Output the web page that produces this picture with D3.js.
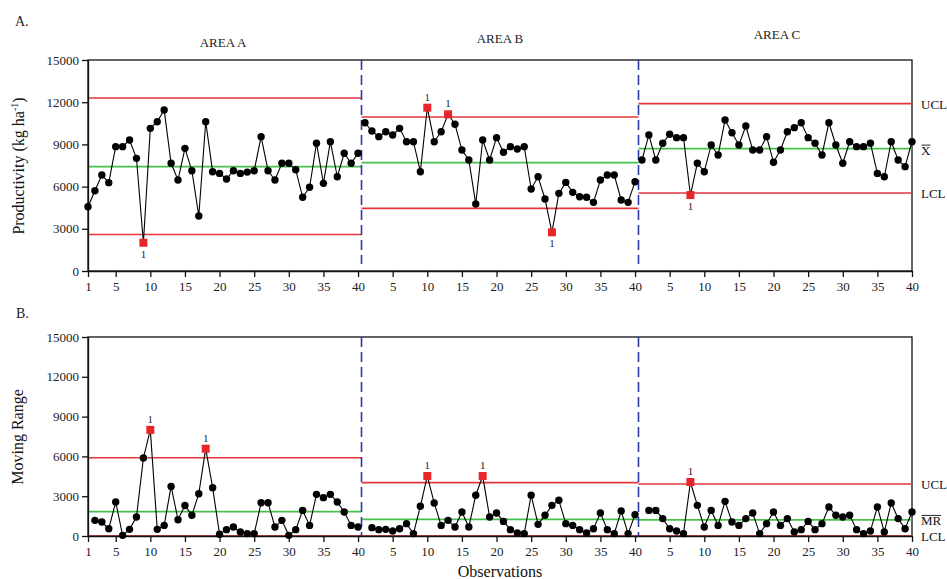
<!DOCTYPE html>
<html>
<head>
<meta charset="utf-8">
<script src="https://d3js.org/d3.v7.min.js"></script>
<style>
  body { margin: 0; background: #fff; }
  text { font-family: "Liberation Serif", "Times New Roman", serif; }
</style>
</head>
<body>
<svg id="chart" width="947" height="579"></svg>
<script>
// ---- data ----
var areas = ["AREA A", "AREA B", "AREA C"];

// productivity (kg/ha), observations 1..40 in each area
var prodA = [4570, 5710, 6820, 6280, 8840, 8840, 9310, 8010, 2010, 10140,
             10610, 11450, 7660, 6470, 8720, 7130, 3910, 10610, 7060, 6940,
             6540, 7130, 6940, 7030, 7130, 9550, 7130, 6470, 7660, 7660,
             7200, 5240, 5950, 9080, 6230, 9190, 6700, 8370, 7660, 8370];
var prodB = [10540, 9950, 9550, 9900, 9670, 10140, 9190, 9190, 7060, 11610,
             9190, 9900, 11140, 10430, 8600, 7890, 4760, 9310, 7890, 9480,
             8440, 8840, 8670, 8840, 5830, 6700, 5120, 2750, 5520, 6300,
             5590, 5280, 5240, 4880, 6470, 6820, 6820, 5050, 4880, 6350];
var prodC = [7890, 9670, 7890, 9080, 9720, 9480, 9480, 5400, 7660, 7060,
             8960, 8250, 10730, 9830, 8960, 10310, 8600, 8600, 9550, 7730,
             8600, 9900, 10190, 10540, 9480, 9080, 8250, 10540, 8960, 7660,
             9190, 8840, 8840, 9080, 6940, 6700, 9190, 7890, 7420, 9190];

// moving range, observations 2..40 in each area
var mrA = [1180, 1050, 550, 2560, 50, 500, 1430, 5880, 8000, 500,
           800, 3740, 1230, 2300, 1560, 3190, 6580, 3640, 130, 480,
           680, 300, 180, 180, 2510, 2510, 680, 1180, 50, 480,
           1930, 800, 3140, 2890, 3140, 2560, 1810, 800, 680];
var mrB = [630, 480, 500, 380, 550, 930, 180, 2240, 4520, 2490,
           800, 1180, 680, 1810, 680, 3070, 4520, 1430, 1730, 1100,
           480, 230, 180, 3070, 880, 1560, 2310, 2690, 930, 800,
           480, 230, 550, 1730, 480, 180, 1880, 180, 1610];
var mrC = [1930, 1930, 1310, 550, 380, 180, 4070, 2310, 680, 1930,
           800, 2610, 1050, 800, 1310, 1730, 180, 930, 1810, 800,
           1310, 300, 480, 1100, 480, 930, 2190, 1560, 1430, 1560,
           480, 180, 380, 2190, 300, 2490, 1310, 550, 1810];

// control limits per area
var prodUCL = [12300, 10950, 11900];
var prodMean = [7420, 7700, 8700];
var prodLCL = [2600, 4450, 5550];
var mrUCL = [5900, 4020, 3920];
var mrMean = [1830, 1260, 1210];
var mrLCL = [0, 0, 0];

// out-of-control observations (test 1), per area
var prodSignals = [[9], [10, 13, 28], [8]];
var mrSignals = [[10, 18], [10, 18], [8]];

var yTicks = [0, 3000, 6000, 9000, 12000, 15000];
var xTicks = [1, 5, 10, 15, 20, 25, 30, 35, 40,
              45, 50, 55, 60, 65, 70, 75, 80,
              85, 90, 95, 100, 105, 110, 115, 120];

// ---- drawing ----
var svg = d3.select("#chart");
var serif = '"Liberation Serif", "Times New Roman", serif';
var red = "#e2363c", green = "#47c04a", blue = "#2b3aa6";

var x = d3.scaleLinear().domain([1, 120]).range([88, 912]);

function tickLabel(d) { return d <= 40 ? d : d - 40 * Math.floor((d - 1) / 40); }

function panel(opt) {
  var y = d3.scaleLinear().domain([0, 15000]).range([opt.bottom, opt.top]);
  var g = svg.append("g");

  // frame
  g.append("rect")
    .attr("x", x(1)).attr("y", opt.top)
    .attr("width", x(120) - x(1)).attr("height", opt.bottom - opt.top)
    .attr("fill", "none").attr("stroke", "#111").attr("stroke-width", 1.3);

  // control limits
  opt.series.forEach(function (s, a) {
    var x0 = a == 0 ? x(1) : x(a * 40 + 0.5), x1 = a == 2 ? x(120) : x(a * 40 + 40.5);
    [[opt.ucl[a], red, 1.6], [opt.lcl[a], red, 1.6], [opt.mean[a], green, 1.8]].forEach(function (l) {
      g.append("line").attr("x1", x0).attr("x2", x1)
        .attr("y1", y(l[0])).attr("y2", y(l[0]))
        .attr("stroke", l[1]).attr("stroke-width", l[2]);
    });
  });

  // area dividers
  [40.5, 80.5].forEach(function (d) {
    g.append("line").attr("x1", x(d)).attr("x2", x(d))
      .attr("y1", opt.top).attr("y2", opt.dashEnd)
      .attr("stroke", blue).attr("stroke-width", 1.6)
      .attr("stroke-dasharray", "10,5");
  });

  // axes
  var ax = g.append("g").attr("transform", "translate(0," + opt.bottom + ")")
    .call(d3.axisBottom(x).tickValues(xTicks).tickFormat(tickLabel).tickSize(6).tickSizeOuter(0));
  var ay = g.append("g").attr("transform", "translate(" + x(1) + ",0)")
    .call(d3.axisLeft(y).tickValues(yTicks).tickFormat(d3.format("d")).tickSize(6).tickSizeOuter(0));
  [ax, ay].forEach(function (a) {
    a.attr("font-family", serif).attr("font-size", 13);
    a.selectAll("path, line").attr("stroke", "#111").attr("stroke-width", 1.3);
    a.selectAll("text").attr("fill", "#222");
  });
  ax.selectAll("text").attr("dy", "0.85em");

  // series
  var line = d3.line().x(function (d) { return x(d.i); }).y(function (d) { return y(d.v); });
  opt.series.forEach(function (s, a) {
    var pts = s.map(function (v, k) {
      var obs = k + opt.firstObs;
      return { i: a * 40 + obs, v: v, obs: obs };
    });
    g.append("path").datum(pts).attr("d", line)
      .attr("fill", "none").attr("stroke", "#000").attr("stroke-width", 1.1);
    var sig = opt.signals[a];
    var normal = pts.filter(function (p) { return sig.indexOf(p.obs) < 0; });
    var flagged = pts.filter(function (p) { return sig.indexOf(p.obs) >= 0; });
    g.selectAll(null).data(normal).enter().append("circle")
      .attr("cx", function (d) { return x(d.i); })
      .attr("cy", function (d) { return y(d.v); })
      .attr("r", 3.7).attr("fill", "#000");
    g.selectAll(null).data(flagged).enter().append("rect")
      .attr("x", function (d) { return x(d.i) - 4; })
      .attr("y", function (d) { return y(d.v) - 4; })
      .attr("width", 8).attr("height", 8).attr("fill", "#e8262a");
    g.selectAll(null).data(flagged).enter().append("text")
      .attr("x", function (d) { return x(d.i); })
      .attr("y", function (d) { return d.v < opt.mean[a] ? y(d.v) + 15 : y(d.v) - 7; })
      .attr("text-anchor", "middle").attr("font-size", 11).attr("fill", "#223")
      .text("1");
  });

  // y title
  var yt = g.append("text")
    .attr("transform", "translate(" + opt.titleX + "," + opt.titleY + ") rotate(-90)")
    .attr("text-anchor", "middle").attr("font-size", 16).attr("fill", "#111");
  opt.title(yt);

  // right-side labels
  opt.right.forEach(function (r) {
    var t = g.append("text").attr("x", 921).attr("y", y(r.v) + r.dy)
      .attr("font-size", 13).attr("fill", "#111").text(r.text);
    if (r.bar) {
      var b = t.node().getBBox();
      g.append("line").attr("x1", b.x + 0.5).attr("x2", b.x + b.width - 0.5)
        .attr("y1", b.y + 2.5).attr("y2", b.y + 2.5)
        .attr("stroke", "#111").attr("stroke-width", 0.9);
    }
  });
  return y;
}

panel({
  top: 60, bottom: 271, dashEnd: 264, firstObs: 1,
  series: [prodA, prodB, prodC], ucl: prodUCL, mean: prodMean, lcl: prodLCL,
  signals: prodSignals, titleX: 24, titleY: 166,
  title: function (t) {
    t.append("tspan").text("Productivity (kg ha");
    t.append("tspan").attr("font-size", 10).attr("dy", -6).text("-1");
    t.append("tspan").attr("dy", 6).text(")");
  },
  right: [{ v: prodUCL[2], dy: 5, text: "UCL" },
          { v: prodMean[2], dy: 6, text: "X", bar: true },
          { v: prodLCL[2], dy: 5, text: "LCL" }]
});

panel({
  top: 337, bottom: 536, dashEnd: 536, firstObs: 2,
  series: [mrA, mrB, mrC], ucl: mrUCL, mean: mrMean, lcl: mrLCL,
  signals: mrSignals, titleX: 23, titleY: 437,
  title: function (t) { t.text("Moving Range"); },
  right: [{ v: mrUCL[2], dy: 5, text: "UCL" },
          { v: mrMean[2], dy: 5, text: "MR", bar: true },
          { v: mrLCL[2], dy: 5, text: "LCL" }]
});

// area headings
areas.forEach(function (a, k) {
  svg.append("text").attr("x", x(k * 40 + 20.5)).attr("y", 47 - k * 4)
    .attr("text-anchor", "middle").attr("font-size", 13).attr("fill", "#222").text(a);
});

svg.append("text").attr("x", 15).attr("y", 26).attr("font-size", 14).attr("fill", "#222").text("A.");
svg.append("text").attr("x", 16).attr("y", 318).attr("font-size", 14).attr("fill", "#222").text("B.");
svg.append("text").attr("x", 500).attr("y", 577).attr("text-anchor", "middle")
  .attr("font-size", 16).attr("fill", "#111").text("Observations");
</script>
</body>
</html>
